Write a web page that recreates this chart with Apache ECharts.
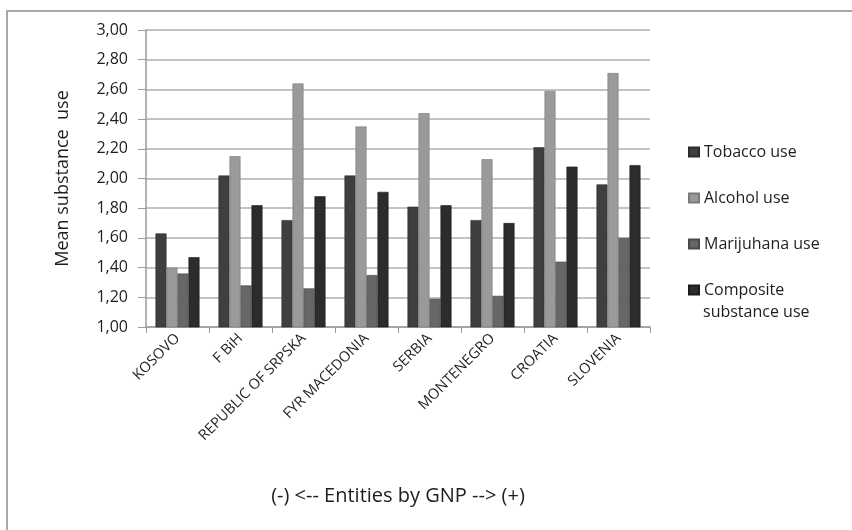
<!DOCTYPE html>
<html>
<head>
<meta charset="utf-8">
<script src="https://cdn.jsdelivr.net/npm/echarts@6/dist/echarts.min.js"></script>
<style>
  html, body { margin: 0; padding: 0; background: #ffffff; }
  #chart { width: 852px; height: 530px; }
</style>
</head>
<body>
<div id="chart"></div>
<script>
// Entities ordered by GNP, low to high
const categories = ['KOSOVO', 'F BiH', 'REPUBLIC OF SRPSKA', 'FYR MACEDONIA', 'SERBIA', 'MONTENEGRO', 'CROATIA', 'SLOVENIA'];

// Mean substance use per entity
const tobaccoUse   = [1.63, 2.02, 1.72, 2.02, 1.81, 1.72, 2.21, 1.96];
const alcoholUse   = [1.40, 2.15, 2.64, 2.35, 2.44, 2.13, 2.59, 2.71];
const marijuanaUse = [1.36, 1.28, 1.26, 1.35, 1.19, 1.21, 1.44, 1.60];
const compositeUse = [1.47, 1.82, 1.88, 1.91, 1.82, 1.70, 2.08, 2.09];

const seriesNames = ['Tobacco use', 'Alcohol use', 'Marijuhana use', 'Composite substance use'];
const seriesData = [tobaccoUse, alcoholUse, marijuanaUse, compositeUse];
const seriesColors = ['#3f3f3f', '#9a9a9a', '#676767', '#2c2c2c'];
const borderColors = ['#2a2a2a', '#7a7a7a', '#4a4a4a', '#1a1a1a'];

const FONT = '"Open Sans", Lato, sans-serif';
const TEXT = '#1e1e1e';

const chart = echarts.init(document.getElementById('chart'), null, { renderer: 'canvas' });

const option = {
  backgroundColor: '#ffffff',
  animation: false,
  textStyle: { fontFamily: FONT, color: TEXT },
  grid: { left: 146, right: 202, top: 30, bottom: 203, containLabel: false },
  legend: {
    orient: 'vertical',
    left: 683,
    top: 136,
    itemWidth: 10,
    itemHeight: 9,
    itemGap: 24,
    icon: 'rect',
    data: seriesNames,
    // the last entry wraps; its second line is drawn just below
    formatter: function (name) {
      return name === 'Composite substance use' ? 'Composite' : name;
    },
    textStyle: { fontFamily: FONT, fontSize: 16, color: TEXT, lineHeight: 22 }
  },
  xAxis: {
    type: 'category',
    data: categories,
    name: '(-) <-- Entities by GNP --> (+)',
    nameLocation: 'middle',
    nameGap: 159,
    nameTextStyle: { fontFamily: FONT, fontSize: 20, color: TEXT },
    axisLine: { show: true, lineStyle: { color: '#9a9a9a', width: 1.5 } },
    axisTick: { show: true, alignWithLabel: false, length: 6, lineStyle: { color: '#9a9a9a' } },
    axisLabel: { rotate: 45, fontSize: 14.5, color: TEXT, margin: 9, interval: 0 },
    splitLine: { show: false }
  },
  yAxis: {
    type: 'value',
    min: 1,
    max: 3,
    interval: 0.2,
    name: 'Mean substance  use',
    nameLocation: 'middle',
    nameGap: 74,
    nameRotate: 90,
    nameTextStyle: { fontFamily: FONT, fontSize: 18, color: TEXT },
    axisLine: { show: true, lineStyle: { color: '#9a9a9a', width: 1.5 } },
    axisTick: { show: true, length: 8, lineStyle: { color: '#9a9a9a' } },
    axisLabel: {
      fontSize: 16,
      color: TEXT,
      margin: 18,
      formatter: function (v) { return v.toFixed(2).replace('.', ','); }
    },
    splitLine: { show: true, lineStyle: { color: '#b0b0b0', width: 1.5 } }
  },
  series: seriesNames.map(function (name, i) {
    return {
      name: name,
      type: 'bar',
      data: seriesData[i],
      barWidth: 11,
      barGap: '0%',
      itemStyle: { color: seriesColors[i], borderColor: borderColors[i], borderWidth: 0.6 }
    };
  }),
  graphic: [
    {
      type: 'polyline',
      shape: { points: [[7, 530], [7, 11], [852, 11]] },
      style: { stroke: '#a8a8a8', lineWidth: 2, fill: null },
      silent: true
    },
    {
      type: 'text',
      left: 703,
      top: 304,
      style: { text: 'substance use', font: '16px ' + FONT, fill: TEXT },
      silent: true
    }
  ]
};

chart.setOption(option);
</script>
</body>
</html>
